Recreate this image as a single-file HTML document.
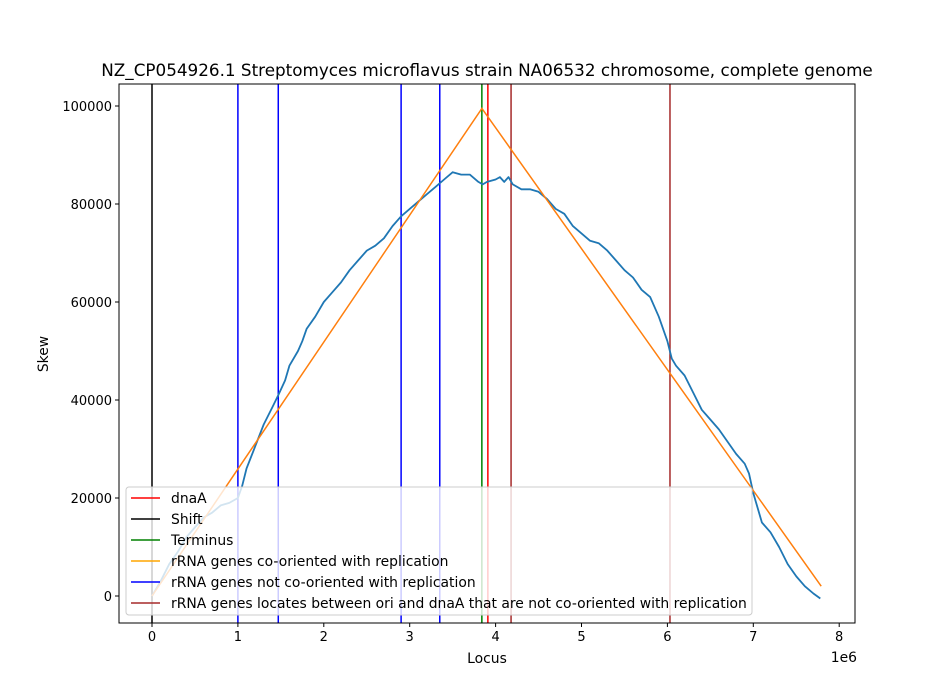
<!DOCTYPE html>
<html><head><meta charset="utf-8"><style>
html,body{margin:0;padding:0;background:#fff;}
svg{display:block;font-family:"DejaVu Sans","Liberation Sans",sans-serif;}
</style></head><body>
<svg id="chart" width="950" height="700" xmlns="http://www.w3.org/2000/svg">
<rect x="0" y="0" width="950" height="700" fill="#fff"/>
<g id="plot"></g>
</svg>
<script>
const xTicks=[0,1,2,3,4,5,6,7,8];
const yTicks=[0,20000,40000,60000,80000,100000];
const skewX=[0,0.1,0.2,0.3,0.4,0.5,0.6,0.7,0.8,0.9,1.0,1.05,1.1,1.2,1.3,1.4,1.47,1.55,1.6,1.7,1.75,1.8,1.9,2.0,2.1,2.2,2.3,2.4,2.5,2.6,2.7,2.8,2.9,3.0,3.1,3.2,3.3,3.4,3.5,3.6,3.7,3.8,3.85,3.9,4.0,4.05,4.1,4.15,4.2,4.3,4.4,4.5,4.6,4.7,4.8,4.9,5.0,5.1,5.2,5.3,5.4,5.5,5.6,5.7,5.8,5.9,6.0,6.05,6.1,6.2,6.3,6.4,6.5,6.6,6.7,6.8,6.9,6.95,7.0,7.1,7.2,7.3,7.4,7.5,7.6,7.7,7.78];
const skewY=[0,3000,6500,9000,12000,14000,16000,17000,18500,19000,20000,22500,26000,30500,35000,38500,41000,44000,47000,50000,52000,54500,57000,60000,62000,64000,66500,68500,70500,71500,73000,75500,77500,79000,80500,82000,83500,85000,86500,86000,86000,84500,84000,84500,85000,85500,84500,85500,84000,83000,83000,82500,81000,79000,78000,75500,74000,72500,72000,70500,68500,66500,65000,62500,61000,57000,52000,48500,47000,45000,41500,38000,36000,34000,31500,29000,27000,25000,21000,15000,13000,10000,6500,4000,2000,500,-500];
const oriX=[0,3.84,7.79];
const oriY=[0,99500,2000];
const vLineX=[0,1.0,1.47,2.9,3.35,3.84,3.91,4.18,6.03];
const vLineColor=["#000","blue","blue","blue","blue","green","red","brown","brown"];
const vLineName=["shift-line","rrna-not-cooriented-1","rrna-not-cooriented-2","rrna-not-cooriented-3","rrna-not-cooriented-4","terminus-line","dnaa-line","rrna-between-ori-dnaa-1","rrna-between-ori-dnaa-2"];
const legendLabels=["dnaA","Shift","Terminus","rRNA genes co-oriented with replication","rRNA genes not co-oriented with replication","rRNA genes locates between ori and dnaA that are not co-oriented with replication"];
const legendColors=["red","#000","green","orange","blue","brown"];

const L=119,R=855,T=84,B=623;
const X=v=>152+v*85.9;
const Y=v=>596-v*0.0049;
const NS="http://www.w3.org/2000/svg";
const g=document.getElementById('plot');
function mk(t,a,p){const e=document.createElementNS(NS,t);for(const k in a)e.setAttribute(k,a[k]);(p||g).appendChild(e);return e;}

for(let i=0;i<vLineX.length;i++){
  const l=mk('line',{x1:X(vLineX[i]),x2:X(vLineX[i]),y1:T,y2:B,stroke:vLineColor[i],'stroke-width':1.5});
  
  
}
let d='';
for(let i=0;i<skewX.length;i++)d+=(i?'L':'M')+X(skewX[i]).toFixed(1)+','+Y(skewY[i]).toFixed(1);
const sk=mk('path',{d:d,fill:'none',stroke:'#1f77b4','stroke-width':1.8,'stroke-linejoin':'round'});


let d2='';
for(let i=0;i<oriX.length;i++)d2+=(i?'L':'M')+X(oriX[i]).toFixed(1)+','+Y(oriY[i]).toFixed(1);
const ol=mk('path',{d:d2,fill:'none',stroke:'#ff7f0e','stroke-width':1.5});



const fr=mk('rect',{x:L,y:T,width:R-L,height:B-T,fill:'none',stroke:'#000','stroke-width':1});



for(const t of xTicks){
  mk('line',{x1:X(t),x2:X(t),y1:B,y2:B+4,stroke:'#000'});
  const tx=mk('text',{x:X(t),y:B+18,'text-anchor':'middle','font-size':13});
  tx.textContent=t;
  
  
}
for(const t of yTicks){
  mk('line',{x1:L-4,x2:L,y1:Y(t),y2:Y(t),stroke:'#000'});
  const tx=mk('text',{x:L-7,y:Y(t)+5,'text-anchor':'end','font-size':13});
  tx.textContent=t;
  
  
}
const lg=mk('g',{});


mk('rect',{x:126,y:487,width:626,height:128,rx:3,fill:'rgba(255,255,255,0.8)',stroke:'#ccc'},lg);
for(let i=0;i<legendLabels.length;i++){
  const yy=498+i*21;
  mk('line',{x1:131,x2:160,y1:yy,y2:yy,stroke:legendColors[i],'stroke-width':1.5},lg);
  const tx=mk('text',{x:171,y:yy+5,'font-size':13.9},lg);
  tx.textContent=legendLabels[i];
  
  
}
</script>
<svg style="position:absolute;left:0;top:0" width="950" height="700" xmlns="http://www.w3.org/2000/svg" font-family="DejaVu Sans, Liberation Sans, sans-serif">
<text x="487" y="76" text-anchor="middle" font-size="16.8">NZ_CP054926.1 Streptomyces microflavus strain NA06532 chromosome, complete genome</text>
<text x="487" y="663" text-anchor="middle" font-size="13.9">Locus</text>
<text x="48" y="354" text-anchor="middle" font-size="13.9" transform="rotate(-90 48 354)">Skew</text>
<text x="857" y="662" text-anchor="end" font-size="13.9">1e6</text>
</svg>
</body></html>
